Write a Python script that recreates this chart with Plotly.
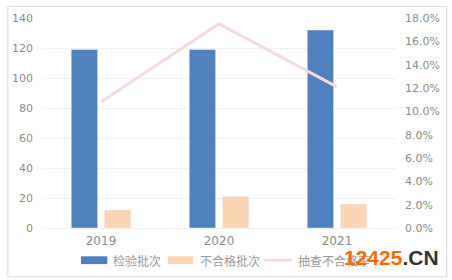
import plotly.graph_objects as go

years = ["2019", "2020", "2021"]
inspected = [119, 119, 132]
failed = [12, 21, 16]
fail_rate = [10.8, 17.5, 12.1]
names = ["检验批次", "不合格批次", "抽查不合格率"]
left_ticks = [0, 20, 40, 60, 80, 100, 120, 140]
right_ticks = [0, 2, 4, 6, 8, 10, 12, 14, 16, 18]

BLUE = "#4f81bd"
ORANGE = "#fcd5b5"
PINK = "#f2dcdb"
GREY = "#8c8c8c"
W, H = 452, 280
L, R, T, B = 36, 399, 13, 228

def px(x):
    return (x - L) / (R - L)

def py(y):
    return (B - y) / (B - T)

fig = go.Figure()
fig.add_trace(go.Bar(x=years, y=inspected, name=names[0], marker_color=BLUE, yaxis="y"))
fig.add_trace(go.Bar(x=years, y=failed, name=names[1], marker_color=ORANGE, yaxis="y"))
fig.add_trace(go.Scatter(x=years, y=fail_rate, name=names[2], mode="lines",
                         line=dict(color=PINK, width=3), yaxis="y2"))

fig.update_layout(
    width=W, height=H,
    margin=dict(l=L, r=W - R, t=T, b=H - B),
    paper_bgcolor="white", plot_bgcolor="white",
    showlegend=False,
    barmode="group", bargap=0.438, bargroupgap=0.206,
    font=dict(family="DejaVu Sans", size=11, color=GREY),
    xaxis=dict(showgrid=False, showline=False, ticks="", tickfont=dict(size=12),
               ticklabelstandoff=4),
    yaxis=dict(range=[0, 140], tickvals=left_ticks, showgrid=True, gridcolor="#f0f0f0",
               gridwidth=1, zeroline=True, zerolinecolor="#f0f0f0", zerolinewidth=1,
               showline=False, ticks="", ticklabelstandoff=8),
    yaxis2=dict(range=[0, 18], tickvals=right_ticks,
                ticktext=[f"{v:.1f}%" for v in right_ticks],
                overlaying="y", side="right", showgrid=False, zeroline=False,
                showline=False, ticks="", ticklabelstandoff=8),
)

shapes = []
annotations = []
# border
shapes.append(dict(type="rect", xref="paper", yref="paper",
                   x0=px(1), x1=px(451), y0=py(1), y1=py(278),
                   line=dict(color="#d9d9d9", width=1), fillcolor="rgba(0,0,0,0)", layer="below"))
# legend
legend_items = [
    (76, 103, 107, "bar", BLUE),
    (165, 191, 196, "bar", ORANGE),
    (263, 292, 296, "line", PINK),
]
for (x0, x1, tx, kind, col), nm in zip(legend_items, names):
    if kind == "bar":
        shapes.append(dict(type="rect", xref="paper", yref="paper",
                           x0=px(x0), x1=px(x1), y0=py(265), y1=py(257),
                           line=dict(width=0), fillcolor=col))
    else:
        shapes.append(dict(type="line", xref="paper", yref="paper",
                           x0=px(x0), x1=px(x1), y0=py(261), y1=py(261),
                           line=dict(color=col, width=3)))
    annotations.append(dict(xref="paper", yref="paper", x=px(tx), y=py(261),
                            text=nm, showarrow=False, xanchor="left", yanchor="middle",
                            font=dict(family="Noto Sans CJK SC", size=12, color="#999999")))
# watermark
annotations.append(dict(xref="paper", yref="paper", x=px(394), y=py(258),
                        text="<b><span style='color:#ff6a00'>12425</span><span style='color:#333333'>.CN</span></b>",
                        showarrow=False, xanchor="center", yanchor="middle",
                        font=dict(family="Liberation Sans", size=21),
                        bgcolor="rgba(255,255,255,0)"))
fig.update_layout(shapes=shapes, annotations=annotations)

fig.write_html("out.html")
